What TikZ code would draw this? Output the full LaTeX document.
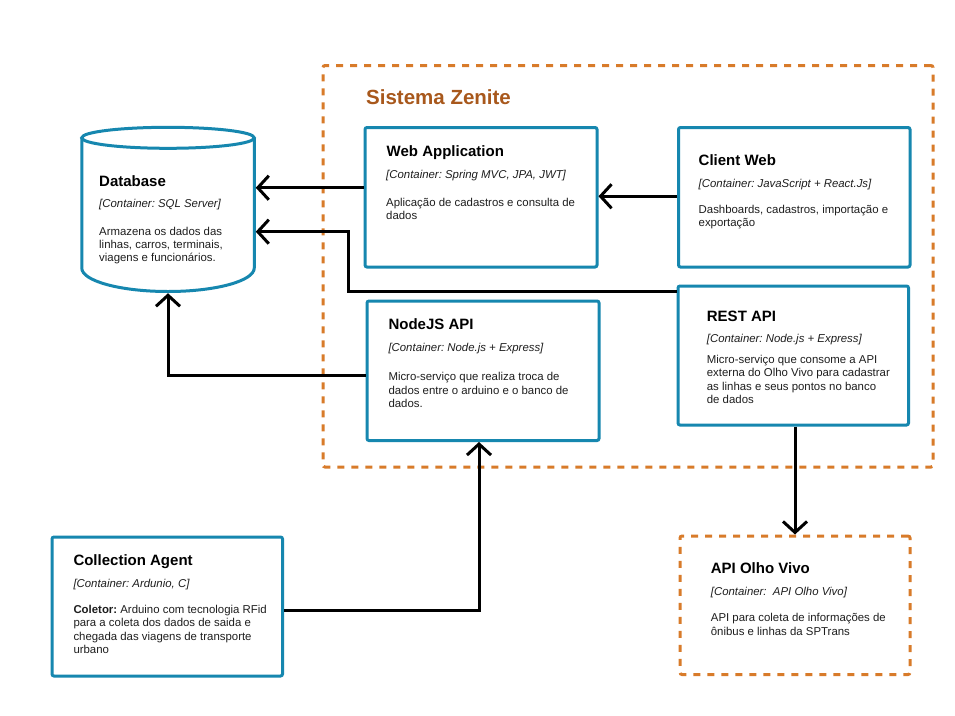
\documentclass[tikz,border=0pt]{standalone}
\usepackage{fontspec}
\setmainfont{Liberation Sans}
\usetikzlibrary{arrows.meta}
\frenchspacing
\definecolor{boxblue}{RGB}{22,135,175}
\definecolor{dashorange}{RGB}{216,123,42}
\definecolor{titlebrown}{RGB}{168,88,28}
\definecolor{descgray}{RGB}{30,30,30}
\tikzset{
  cbox/.style={draw=boxblue, line width=3pt, fill=white, rounded corners=2pt, inner sep=0pt, outer sep=1.5pt},
  dbox/.style={draw=dashorange, line width=3pt, dash pattern=on 7pt off 7pt, rounded corners=2pt, inner sep=0pt, outer sep=1.5pt},
  ttl/.style={anchor=base west, inner sep=0pt, font=\fontsize{15}{18}\selectfont\bfseries},
  tech/.style={anchor=base west, inner sep=0pt, font=\fontsize{11.4}{13.4}\selectfont\itshape\frenchspacing, text=descgray},
  desc/.style={anchor=base west, inner sep=0pt, font=\fontsize{11.4}{13.4}\selectfont\frenchspacing, text=descgray},
  arr/.style={draw=black, line width=3pt, -{Straight Barb[length=11pt,width=24pt]}}
}
\newcommand{\dtext}[1]{\parbox[t]{230pt}{\raggedright\frenchspacing #1}}
\begin{document}
\begin{tikzpicture}[x=1pt,y=-1pt]
\useasboundingbox (0,0) rectangle (955,715);
\fill[white] (0,0) rectangle (955,715);

% outer system boundary
\node[dbox, minimum width=610pt, minimum height=401.5pt] (zenite) at (628,266.25) {};
\node[anchor=base west, inner sep=0pt, font=\fontsize{20.5}{24}\selectfont\bfseries, text=titlebrown] (zenitettl) at (366,104) {Sistema Zenite};

% database cylinder
\node[inner sep=0pt, outer sep=1.5pt, minimum width=172.5pt, minimum height=164.5pt] (db) at (168,209.5) {};
\draw[boxblue, line width=3pt, fill=white] (81.75,137.8) -- (81.75,268) arc[start angle=180, end angle=360, x radius=86.25pt, y radius=23.5pt] -- (254.25,137.8);
\draw[boxblue, line width=3pt, fill=white] (168,137.8) ellipse[x radius=86.25pt, y radius=10.5pt];
\node[ttl] (dbt) at (99,186) {Database};
\node[tech] (dbs) at (99,207) {[Container: SQL Server]};
\node[desc] (dbd) at (99,235) {\dtext{Armazena os dados das\\linhas, carros, terminais,\\viagens e funcionários.}};

% containers
\node[cbox, minimum width=232pt, minimum height=139.5pt] (webapp) at (481,197.25) {};
\node[ttl] (wat) at (386.5,156) {Web Application};
\node[tech] (was) at (386,178.5) {[Container: Spring MVC, JPA, JWT]};
\node[desc] (wad) at (386,206) {\dtext{Aplicação de cadastros e consulta de\\dados}};

\node[cbox, minimum width=231.5pt, minimum height=139.5pt] (client) at (794.25,197.25) {};
\node[ttl] (cwt) at (698.5,165) {Client Web};
\node[tech] (cws) at (698.5,187.7) {[Container: JavaScript + React.Js]};
\node[desc] (cwd) at (698.5,213.3) {\dtext{Dashboards, cadastros, importação e\\exportação}};

\node[cbox, minimum width=232pt, minimum height=139.5pt] (nodejs) at (483,370.75) {};
\node[ttl] (njt) at (388.3,329.3) {NodeJS API};
\node[tech] (njs) at (388.3,351.7) {[Container: Node.js + Express]};
\node[desc] (njd) at (388.3,380.7) {\dtext{Micro-serviço que realiza troca de\\dados entre o arduino e o banco de\\dados.}};

\node[cbox, minimum width=230.5pt, minimum height=139pt] (rest) at (793.25,355.5) {};
\node[ttl] (rat) at (706.7,321) {REST API};
\node[tech] (ras) at (706.7,342.7) {[Container: Node.js + Express]};
\node[desc] (rad) at (706.7,363.3) {\dtext{Micro-serviço que consome a API\\externa do Olho Vivo para cadastrar\\as linhas e seus pontos no banco\\de dados}};

\node[cbox, minimum width=230.5pt, minimum height=139pt] (coll) at (167.25,606.5) {};
\node[ttl] (cat) at (73.3,565.7) {Collection Agent};
\node[tech] (cas) at (73.3,587.3) {[Container: Ardunio, C]};
\node[desc] (cad) at (73.3,613.3) {\dtext{\textbf{Coletor:} Arduino com tecnologia RFid\\para a coleta dos dados de saida e\\chegada das viagens de transporte\\urbano}};

\node[dbox, fill=white, minimum width=230pt, minimum height=138.5pt] (olho) at (795,605.25) {};
\node[ttl] (olt) at (710.7,573.3) {API Olho Vivo};
\node[tech] (ols) at (710.7,595) {[Container:\ \ API Olho Vivo]};
\node[desc] (old) at (710.7,621.7) {\dtext{API para coleta de informações de\\ônibus e linhas da SPTrans}};

% connectors
\coordinate (k1) at (348.3,231.7);
\draw[arr] ([yshift=9.5pt]webapp.west) coordinate (a1) -- (a1 -| db.east);
\draw[arr] ([yshift=1pt]client.west) coordinate (a2) -- (a2 -| webapp.east);
\draw[arr] ([yshift=64pt]rest.west) -| (k1) -- (k1 -| db.east);
\draw[arr] ([yshift=-4.25pt]nodejs.west) -| (db.south);
\draw[arr] ([yshift=-3.5pt]coll.east) -| ([xshift=-4pt]nodejs.south);
\draw[arr] (olho.north |- rest.south) -- (olho.north);
\end{tikzpicture}
\end{document}
